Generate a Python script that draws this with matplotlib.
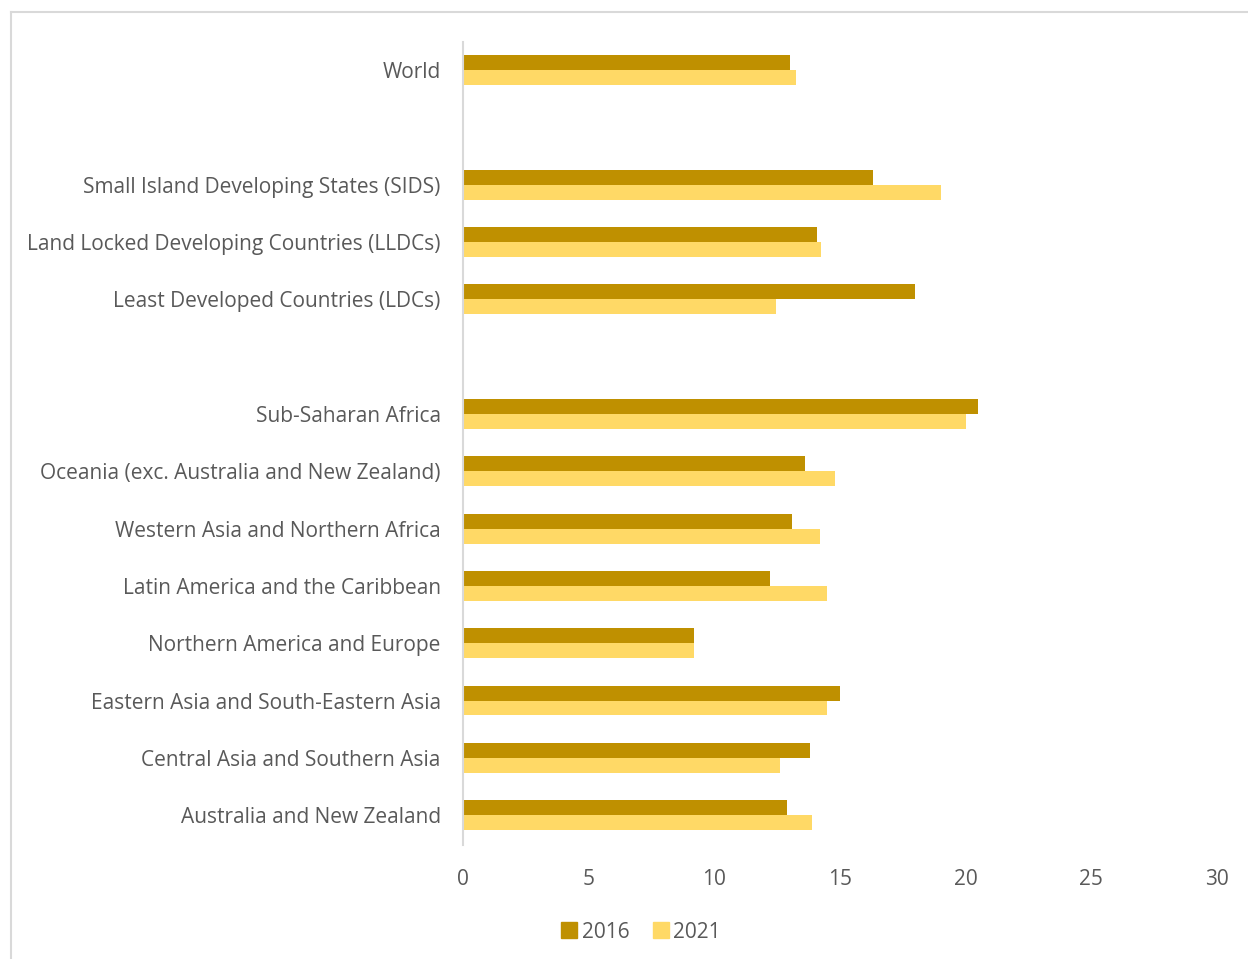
import numpy as np
import matplotlib.pyplot as plt
from matplotlib.lines import Line2D

plt.rcParams['font.family'] = ['Open Sans', 'DejaVu Sans']

categories = [
    'World', '',
    'Small Island Developing States (SIDS)',
    'Land Locked Developing Countries (LLDCs)',
    'Least Developed Countries (LDCs)', '',
    'Sub-Saharan Africa',
    'Oceania (exc. Australia and New Zealand)',
    'Western Asia and Northern Africa',
    'Latin America and the Caribbean',
    'Northern America and Europe',
    'Eastern Asia and South-Eastern Asia',
    'Central Asia and Southern Asia',
    'Australia and New Zealand',
]
v2016 = [13.0, np.nan, 16.3, 14.1, 18.0, np.nan, 20.5, 13.6, 13.1, 12.2, 9.2, 15.0, 13.8, 12.9]
v2021 = [13.25, np.nan, 19.0, 14.25, 12.45, np.nan, 20.0, 14.8, 14.2, 14.5, 9.2, 14.5, 12.6, 13.9]
xticks = [0, 5, 10, 15, 20, 25, 30]

c2016 = '#BF9000'
c2021 = '#FFD966'
txt = '#595959'

fig = plt.figure(figsize=(12.48, 9.59), dpi=100)
ax = fig.add_axes([463 / 1248, 1 - 845 / 959, (1217 - 463) / 1248, (845 - 42) / 959])

y = np.arange(len(categories))
h = 0.26
ax.barh(y - h / 2, v2016, height=h, color=c2016, label='2016')
ax.barh(y + h / 2, v2021, height=h, color=c2021, label='2021')

ax.set_xlim(0, 30)
ax.set_ylim(13.52, -0.49)
ax.set_xticks(xticks)
ax.set_yticks(y)
ax.set_yticklabels(categories)
ax.tick_params(axis='both', length=0, labelsize=15, colors=txt)
ax.tick_params(axis='y', pad=16)
ax.tick_params(axis='x', pad=17)
for s in ['top', 'right', 'bottom']:
    ax.spines[s].set_visible(False)
ax.spines['left'].set_color('#D9D9D9')
ax.spines['left'].set_linewidth(1.5)

handles = [Line2D([], [], marker='s', linestyle='none', markersize=11, color=c2016),
           Line2D([], [], marker='s', linestyle='none', markersize=11, color=c2021)]
fig.legend(handles, ['2016', '2021'], loc='center', bbox_to_anchor=(640 / 1248, 1 - 932 / 959),
           ncol=2, frameon=False, fontsize=15, labelcolor=txt, handletextpad=0.1,
           columnspacing=1.0, handlelength=1.0)

# outer chart frame
fig.add_artist(Line2D([11 / 1248, 11 / 1248], [0, 1 - 12 / 959], transform=fig.transFigure,
                      color='#D9D9D9', linewidth=1.5))
fig.add_artist(Line2D([11 / 1248, 1], [1 - 12 / 959, 1 - 12 / 959], transform=fig.transFigure,
                      color='#D9D9D9', linewidth=1.5))

fig.savefig('out.png', dpi=100)
